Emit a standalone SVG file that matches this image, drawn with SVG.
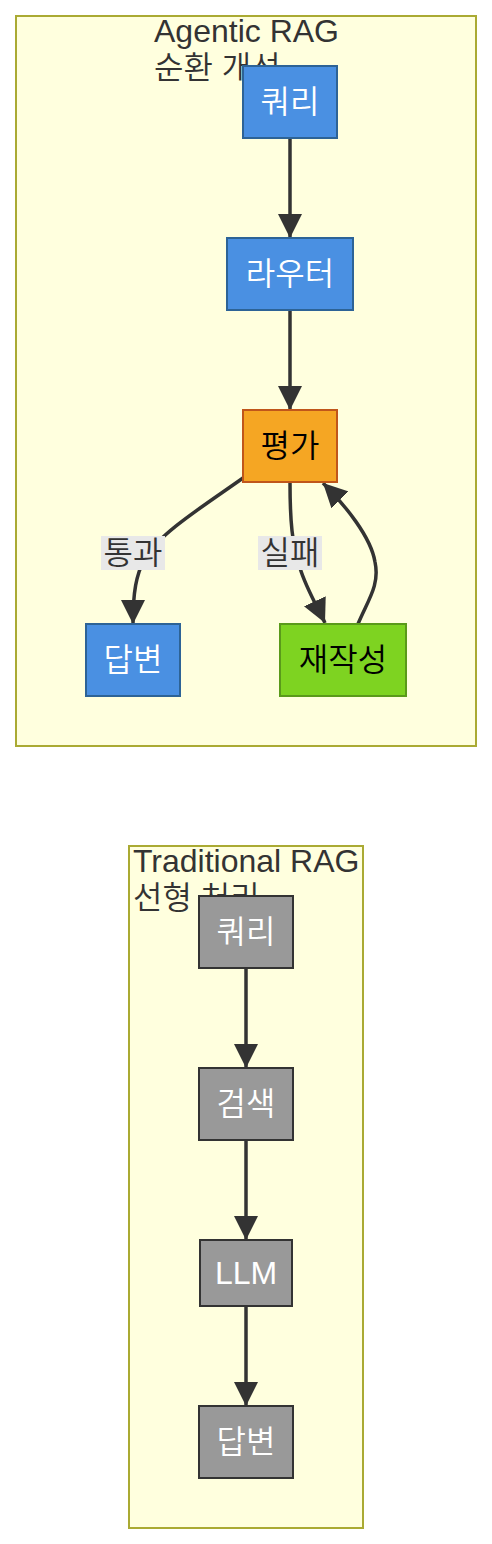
<svg xmlns="http://www.w3.org/2000/svg" width="492" height="1544" viewBox="0 0 492 1544">
<defs>
<style>
text{font-family:"Liberation Sans","Noto Sans CJK KR",sans-serif;font-size:32px;font-weight:350}
.cluster{fill:#ffffde;stroke:#aaaa33;stroke-width:2}
.title{fill:#333333}
.edge{fill:none;stroke:#333333;stroke-width:3.5}
.blue{fill:#4a90e2;stroke:#2d6396;stroke-width:2}
.orange{fill:#f5a623;stroke:#c0561a;stroke-width:2}
.green{fill:#7ed321;stroke:#5a9a1a;stroke-width:2}
.gray{fill:#999999;stroke:#333333;stroke-width:2}
.wt{fill:#ffffff;text-anchor:middle}
.bt{fill:#000000;text-anchor:middle}
.lblbg{fill:#e8e8e8}
.lbl{fill:#333333;text-anchor:middle}
</style>
<marker id="arrow" markerUnits="userSpaceOnUse" markerWidth="24" markerHeight="24" viewBox="0 0 10 10" refX="10" refY="5" orient="auto">
<path d="M0,0 L10,5 L0,10 z" fill="#333333"/>
</marker>
</defs>
<rect width="492" height="1544" fill="#ffffff"/>
<g id="cluster-agentic">
<rect class="cluster" x="16" y="16" width="460" height="730"/>
<text class="title" x="154" y="42">Agentic RAG</text>
<text class="title" x="154" y="79">순환 개선</text>
</g>
<g id="cluster-traditional">
<rect class="cluster" x="129" y="846" width="234" height="682"/>
<text class="title" x="133" y="872">Traditional RAG</text>
<text class="title" x="133" y="909">선형 처리</text>
</g>
<g id="connectors">
<path class="edge" d="M290,138 L290,238" marker-end="url(#arrow)"/>
<path class="edge" d="M290,310 L290,410" marker-end="url(#arrow)"/>
<path class="edge" d="M243,478 C205,505 160,533 145,558 C136,575 133,592 133,624" marker-end="url(#arrow)"/>
<path class="edge" d="M290,482 C290,520 292,545 300,568 C306,588 318,608 325,623" marker-end="url(#arrow)"/>
<path class="edge" d="M358,624 C368,600 380,585 375,562 C371,537 345,505 323,483" marker-end="url(#arrow)"/>
<path class="edge" d="M246,968 L246,1068" marker-end="url(#arrow)"/>
<path class="edge" d="M246,1140 L246,1240" marker-end="url(#arrow)"/>
<path class="edge" d="M246,1306 L246,1406" marker-end="url(#arrow)"/>
<g id="label-pass">
<rect class="lblbg" x="101" y="536" width="64" height="34"/>
<text class="lbl" x="133" y="564">통과</text>
</g>
<g id="label-fail">
<rect class="lblbg" x="258" y="536" width="64" height="34"/>
<text class="lbl" x="290" y="564">실패</text>
</g>
</g>
<g id="a-query">
<rect class="blue" x="243" y="66" width="94" height="72"/>
<text class="wt" x="290" y="113">쿼리</text>
</g>
<g id="a-router">
<rect class="blue" x="227" y="238" width="126" height="72"/>
<text class="wt" x="290" y="285">라우터</text>
</g>
<g id="a-eval">
<rect class="orange" x="243" y="410" width="94" height="72"/>
<text class="bt" x="290" y="457">평가</text>
</g>
<g id="a-answer">
<rect class="blue" x="86" y="624" width="94" height="72"/>
<text class="wt" x="133" y="671">답변</text>
</g>
<g id="a-rewrite">
<rect class="green" x="280" y="624" width="126" height="72"/>
<text class="bt" x="343" y="671">재작성</text>
</g>
<g id="t-query">
<rect class="gray" x="199" y="896" width="94" height="72"/>
<text class="wt" x="246" y="943">쿼리</text>
</g>
<g id="t-search">
<rect class="gray" x="199" y="1068" width="94" height="72"/>
<text class="wt" x="246" y="1115">검색</text>
</g>
<g id="t-llm">
<rect class="gray" x="200" y="1240" width="92" height="66"/>
<text class="wt" x="246" y="1284">LLM</text>
</g>
<g id="t-answer">
<rect class="gray" x="199" y="1406" width="94" height="72"/>
<text class="wt" x="246" y="1453">답변</text>
</g>
</svg>
